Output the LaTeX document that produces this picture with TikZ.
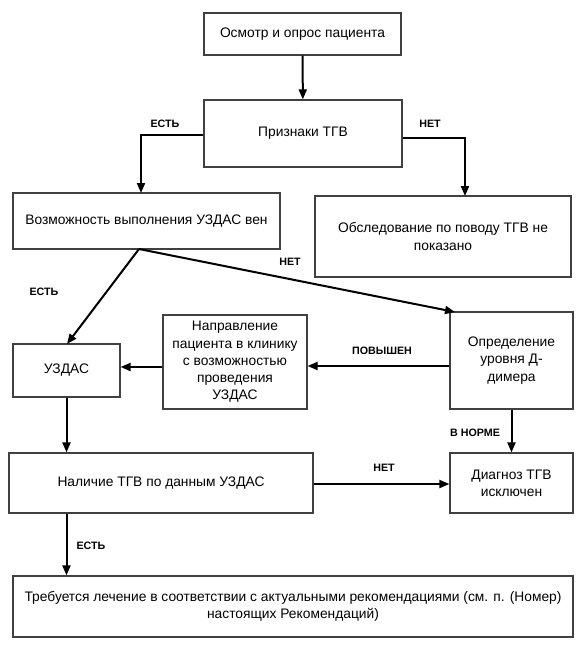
\documentclass[tikz,border=0pt]{standalone}
\usepackage{fontspec}
\setmainfont{Liberation Sans}
\usetikzlibrary{arrows.meta,calc}
\tikzset{
  box/.style={draw=black!75, line width=1.2pt, fill=white, align=center, inner sep=2pt,
    font=\fontsize{13.8}{17.2}\selectfont},
  conn/.style={line width=2pt, -{Triangle[length=10pt,width=8pt]}},
  lbl/.style={font=\bfseries\fontsize{10.7}{12}\selectfont, inner sep=0pt}
}
\begin{document}
\begin{tikzpicture}[x=1pt,y=-1pt]
\useasboundingbox (0,0) rectangle (582,651);
\fill[white] (0,0) rectangle (582,651);
% boxes
\node[box, minimum width=197pt, minimum height=42pt] (exam) at (302.5,34) {Осмотр и опрос пациента};
\node[box, minimum width=198pt, minimum height=67pt] (signs) at (303,133.5) {Признаки ТГВ};
\node[box, minimum width=267pt, minimum height=56pt] (poss) at (146.5,221) {Возможность выполнения УЗДАС вен};
\node[box, minimum width=256pt, minimum height=81pt] (noexam) at (443,236.5) {Обследование по поводу ТГВ не\\показано};
\node[box, minimum width=107pt, minimum height=53pt] (uzdas) at (66.5,370.5) {УЗДАС};
\node[box, minimum width=144pt, minimum height=94pt] (refer) at (235,362) {Направление\\пациента в клинику\\с возможностью\\проведения\\УЗДАС};
\node[box, minimum width=123pt, minimum height=97pt] (ddim) at (511.5,360.5) {Определение\\уровня Д-\\димера};
\node[box, minimum width=304pt, minimum height=60pt] (result) at (161,483) {Наличие ТГВ по данным УЗДАС};
\node[box, minimum width=123pt, minimum height=60pt] (excl) at (511.5,483) {Диагноз ТГВ\\исключен};
\node[box, minimum width=560pt, minimum height=61pt] (treat) at (293,606.5) {Требуется лечение в соответствии с актуальными рекомендациями (см. п. (Номер)\\настоящих Рекомендаций)};
% helper coordinates
\coordinate (c1) at (141,193);
\coordinate (c2) at (465,196);
\coordinate (v) at (139,249);
\coordinate (c3) at (67,344);
\coordinate (c4) at (455,312);
% connectors
\draw[conn] (exam) -- (signs);
\draw[conn] ([yshift=-1.5pt]signs.west) -| (c1);
\draw[conn] ([yshift=-4.5pt]signs.east) -| (c2);
\draw[conn] (v) -- (c3);
\draw[conn] (v) -- (c4);
\draw[conn] ([yshift=-5.5pt]ddim.west) -- ([yshift=-4pt]refer.east);
\draw[conn] ([yshift=-5pt]refer.west) -- ([yshift=3.5pt]uzdas.east);
\draw[conn] (uzdas.south) -- (uzdas.south |- result.north);
\draw[conn] (ddim.south) -- (excl.north);
\draw[conn] ([yshift=-1pt]result.east) -- ([yshift=-1pt]excl.west);
\draw[conn] (result.south -| uzdas.south) -- (treat.north -| uzdas.south);
% labels
\node[lbl] (l1) at (165,124) {ЕСТЬ};
\node[lbl] (l2) at (430,124) {НЕТ};
\node[lbl] (l3) at (290,262) {НЕТ};
\node[lbl] (l4) at (44,292) {ЕСТЬ};
\node[lbl] (l5) at (382,351) {ПОВЫШЕН};
\node[lbl] (l6) at (475,433) {В НОРМЕ};
\node[lbl] (l7) at (384,468) {НЕТ};
\node[lbl] (l8) at (91,546) {ЕСТЬ};
\end{tikzpicture}
\end{document}
